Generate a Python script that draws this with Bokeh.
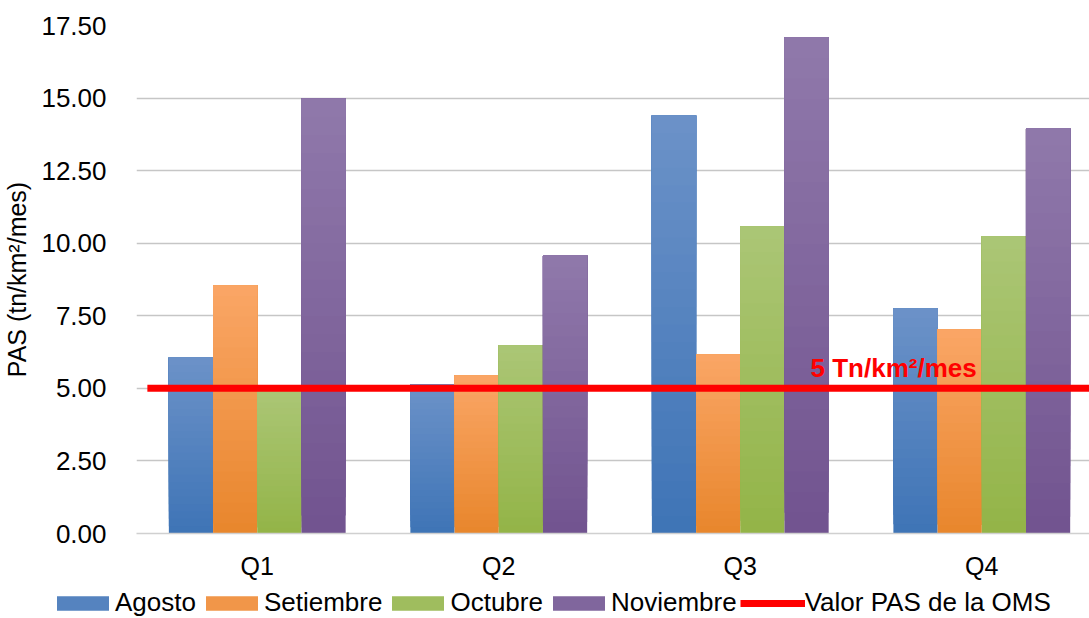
import numpy as np
from bokeh.plotting import figure
from bokeh.models import FixedTicker, Legend, LegendItem, Label, Range1d
from bokeh.embed import file_html
from bokeh.resources import INLINE

# ---------------- data ----------------
quarters = ["Q1", "Q2", "Q3", "Q4"]
months = ["Agosto", "Setiembre", "Octubre", "Noviembre"]
agosto = [6.06, 5.13, 14.40, 7.75]
setiembre = [8.54, 5.44, 6.17, 7.03]
octubre = [4.92, 6.48, 10.58, 10.23]
noviembre = [14.98, 9.58, 17.09, 13.95]
oms_value = 5.0
oms_series = "Valor PAS de la OMS"
oms_text = "5 Tn/km²/mes"
y_ticks = [0, 2.5, 5, 7.5, 10, 12.5, 15, 17.5]
y_title = "PAS (tn/km²/mes)"

series = [agosto, setiembre, octubre, noviembre]
# (bottom colour, top colour) per series: vertical gradient
grad = [("#3E74B6", "#6C92C8"), ("#E8862C", "#FAA666"),
        ("#93B447", "#ABC676"), ("#71538F", "#9079AB")]

FONT = "Liberation Sans"
BAR_W = 0.183
N_SLICES = 24
W = 1089
LEG_H = 32
MAIN_H = 618 - LEG_H


def mix(c0, c1, t):
    a = [int(c0[i:i + 2], 16) for i in (1, 3, 5)]
    b = [int(c1[i:i + 2], 16) for i in (1, 3, 5)]
    return "#%02x%02x%02x" % tuple(round(a[j] + (b[j] - a[j]) * t) for j in range(3))


n = len(quarters)
centers = np.arange(n) + 0.5

p = figure(width=W, height=MAIN_H, output_backend="svg", toolbar_location=None,
           tools="", x_range=Range1d(0, 3.946), y_range=Range1d(0, 17.5),
           min_border_left=136, min_border_right=0, min_border_top=25,
           min_border_bottom=MAIN_H - 533)
p.outline_line_color = None
p.background_fill_color = "white"
p.border_fill_color = "white"

for si, (vals, (c_bot, c_top)) in enumerate(zip(series, grad)):
    xs = centers + (si - 1.5) * BAR_W
    v = np.array(vals)
    for k in range(N_SLICES):
        t = k / N_SLICES
        p.vbar(x=xs, top=v, bottom=v * t, width=BAR_W,
               fill_color=mix(c_bot, c_top, t + 0.5 / N_SLICES), line_color=None)

line_x0 = 0.045
p.line(x=[line_x0, n], y=[oms_value, oms_value], line_color="#FF0000", line_width=7)

p.add_layout(Label(x=3.135, y=oms_value, y_offset=20, text=oms_text,
                   text_align="center", text_baseline="alphabetic",
                   text_font=FONT, text_font_style="bold", text_font_size="26px",
                   text_color="#FF0000"))

# axes
p.xaxis.ticker = FixedTicker(ticks=list(centers))
p.xaxis.major_label_overrides = {float(c): q for c, q in zip(centers, quarters)}
p.xaxis.major_tick_line_color = None
p.xaxis.minor_tick_line_color = None
p.xaxis.axis_line_color = "#D0D0D0"
p.xaxis.axis_line_width = 1.5
p.xaxis.major_label_standoff = 12
p.xaxis.major_label_text_font = FONT
p.xaxis.major_label_text_font_size = "25px"
p.xaxis.major_label_text_color = "black"

p.yaxis.ticker = FixedTicker(ticks=y_ticks)
p.yaxis.major_label_overrides = {float(t): "%.2f" % t for t in y_ticks}
p.yaxis.axis_line_color = None
p.yaxis.major_tick_line_color = None
p.yaxis.minor_tick_line_color = None
p.yaxis.major_label_standoff = 24
p.yaxis.major_label_text_font = FONT
p.yaxis.major_label_text_font_size = "26px"
p.yaxis.major_label_text_color = "black"
p.yaxis.axis_label = y_title
p.yaxis.axis_label_text_font = FONT
p.yaxis.axis_label_text_font_size = "25px"
p.yaxis.axis_label_text_font_style = "normal"
p.yaxis.axis_label_text_color = "black"
p.yaxis.axis_label_standoff = 7

p.xgrid.grid_line_color = None
p.ygrid.grid_line_color = "#C6C6C6"
p.ygrid.grid_line_width = 1.5

# ---------------- legend strip (separate root, full width frame) ----------------
lf = figure(width=W, height=LEG_H, output_backend="svg", toolbar_location=None,
            tools="", x_range=Range1d(0, 1), y_range=Range1d(0, 1),
            min_border=0, x_axis_location=None, y_axis_location=None)
lf.outline_line_color = None
lf.xgrid.grid_line_color = None
lf.ygrid.grid_line_color = None

items = []
for name, (c_bot, c_top) in zip(months, grad):
    # off-range sample glyph, only used to draw the legend swatch
    r = lf.vbar(x=[-5], top=[-5], width=0.1, fill_color=mix(c_bot, c_top, 0.5),
                line_color=None)
    items.append(LegendItem(label=name, renderers=[r]))
rl = lf.line(x=[-5, -4], y=[-5, -5], line_color="#FF0000", line_width=7)
items.append(LegendItem(label=oms_series, renderers=[rl]))

legend = Legend(items=items, orientation="horizontal", location=(50, 0),
                glyph_width=65, glyph_height=18, label_standoff=0, spacing=3,
                padding=0, margin=0, border_line_color=None, background_fill_alpha=0,
                label_text_font=FONT, label_text_font_size="26px",
                label_text_color="black")
lf.add_layout(legend, "center")

open("out.html", "w").write(file_html([p, lf], INLINE))
